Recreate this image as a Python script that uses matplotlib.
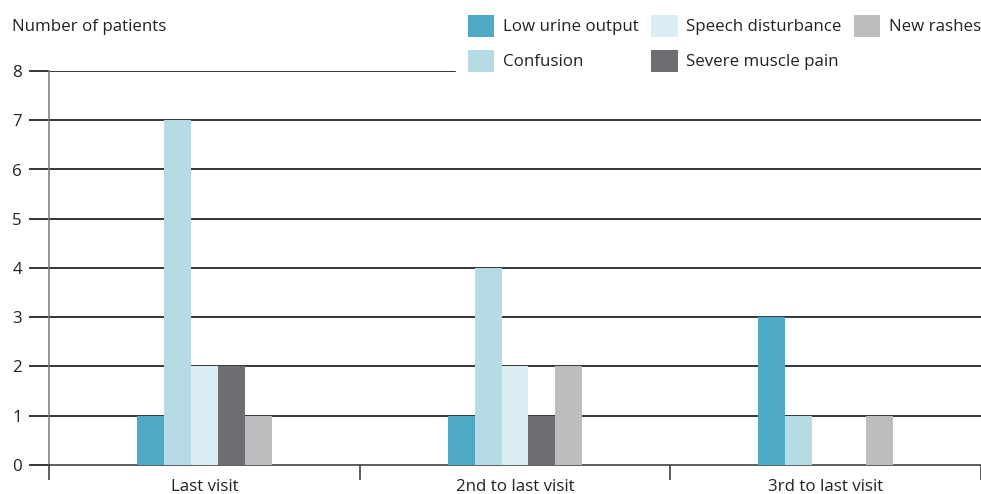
import matplotlib
matplotlib.use("Agg")
import matplotlib.pyplot as plt
import numpy as np
from matplotlib.patches import Patch

categories = ["Last visit", "2nd to last visit", "3rd to last visit"]
series_names = ["Low urine output", "Confusion", "Speech disturbance", "Severe muscle pain", "New rashes"]
low_urine = [1, 1, 3]
confusion = [7, 4, 1]
speech = [2, 2, 0]
muscle = [2, 1, 0]
rashes = [1, 2, 1]
colors = ["#4EA9C4", "#B5DBE5", "#DAEDF3", "#6D6E71", "#BCBDBF"]
yticks = [0, 1, 2, 3, 4, 5, 6, 7, 8]

plt.rcParams['font.family'] = ['Open Sans', 'DejaVu Sans']
fs = 12.2
fig = plt.figure(figsize=(9.81, 4.94), dpi=100)
ax = fig.add_axes([49/981, 1-465/494, 1-49/981, (465-71)/494])

values = [low_urine, confusion, speech, muscle, rashes]
x = np.arange(len(categories))
bw = 0.0865
for i, (vals, c) in enumerate(zip(values, colors)):
    ax.bar(x + (i - 2) * bw, vals, width=bw, color=c, zorder=3, linewidth=0)

ax.set_xlim(-0.5, 2.5)
ax.set_ylim(0, 8)
ax.set_yticks(yticks)
ax.set_yticklabels([str(v) for v in yticks], fontsize=fs, color="#222222")
ax.tick_params(axis='y', length=14.5, width=1.1, color='black', pad=5)
for v in yticks[1:]:
    xmax = (455 - 49) / 932 if v == 8 else 1.0
    ax.axhline(v, xmin=0, xmax=xmax, color='black', linewidth=1.1, zorder=1)

ax.set_xticks(x)
ax.set_xticklabels(categories, fontsize=fs, color="#222222")
ax.tick_params(axis='x', which='major', length=0, pad=10)
ax.set_xticks([-0.5, 0.5, 1.5, 2.5], minor=True)
ax.tick_params(axis='x', which='minor', length=11, width=1.1, color='#333333')

for s in ['top', 'right']:
    ax.spines[s].set_visible(False)
ax.spines['left'].set_color('#777777')
ax.spines['left'].set_linewidth(1.1)
ax.spines['bottom'].set_color('#333333')
ax.spines['bottom'].set_linewidth(1.1)

fig.text(12/981, 1-27/494, "Number of patients", fontsize=fs, color="#222222", va='center', ha='left')

handles = [Patch(facecolor=c, edgecolor='none') for c in colors]
leg = fig.legend(handles, series_names, loc='upper right', bbox_to_anchor=(1.0, 1 - 15/494),
                 ncol=3, frameon=False, fontsize=fs, handlelength=1.55, handleheight=1.6,
                 handletextpad=0.5, columnspacing=0.75, labelspacing=0.78, borderpad=0,
                 borderaxespad=0)
for t in leg.get_texts():
    t.set_color("#222222")

fig.savefig("out.png", dpi=100)
